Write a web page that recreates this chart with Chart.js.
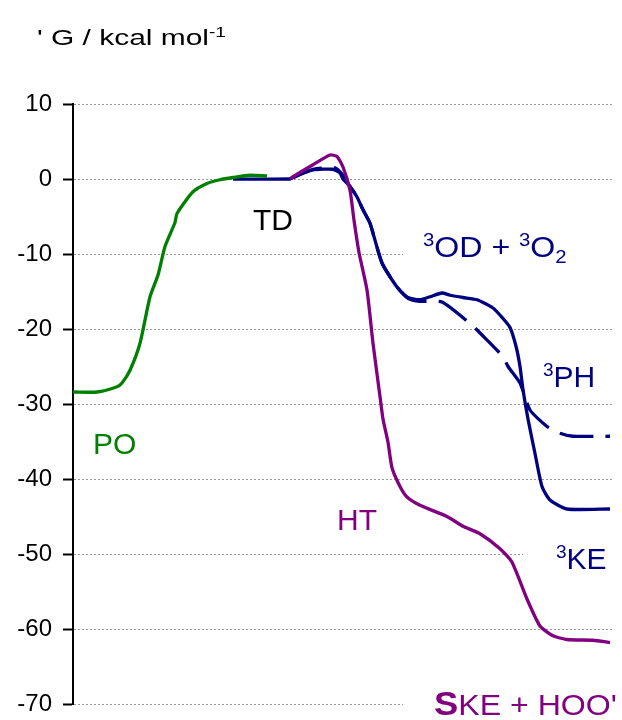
<!DOCTYPE html>
<html>
<head>
<meta charset="utf-8">
<script src="https://cdn.jsdelivr.net/npm/chart.js@4/dist/chart.umd.min.js"></script>
<style>
  body { margin: 0; background: #fff; }
  canvas { display: block; }
</style>
</head>
<body>
<canvas id="chart-energi" width="622" height="720"></canvas>
<script>
// reaction coordinate (arbitrary units) and free energy, kcal/mol
const poX = [0, 24, 44, 49, 57, 67, 77, 85, 92, 102, 104, 120, 134, 147, 160, 177, 194];
const poG = [-28.4, -28.4, -27.7, -27.2, -25.5, -21.9, -15.7, -12.8, -9.0, -5.8, -4.6, -1.7, -0.6, -0.1, 0.2, 0.5, 0.4];

const odX = [160, 217, 220, 240, 260, 267, 270, 277, 284, 290, 297, 309, 324, 335, 347, 357, 369, 377, 390, 404, 420, 430, 437, 443, 447, 450, 455, 462, 469, 477, 494, 537];
const odG = [0, 0, 0.2, 1.2, 1.3, 0.8, 0, -1.0, -2.4, -4.1, -5.9, -11.2, -14.4, -15.8, -16.1, -15.7, -15.2, -15.5, -15.8, -16.1, -17.2, -18.6, -19.8, -22.3, -25.0, -28.1, -32.0, -36.6, -41.0, -42.8, -44.0, -44.0];

const phX = [217, 220, 240, 262, 270, 277, 284, 290, 297, 309, 324, 335, 347, 369, 399, 409, 430, 435, 447, 457, 474, 487, 500, 537];
const phG = [0, 0.2, 1.3, 1.5, 0.5, -1.0, -2.4, -4.1, -5.9, -11.2, -14.4, -15.9, -16.3, -16.4, -19.5, -20.8, -23.7, -25.0, -27.2, -30.8, -33.0, -33.9, -34.3, -34.3];

const htX = [217, 220, 240, 257, 264, 270, 277, 281, 286, 294, 300, 307, 310, 315, 319, 327, 334, 347, 374, 390, 407, 427, 439, 454, 467, 480, 494, 520, 537];
const htG = [0, 0.3, 1.9, 3.2, 3.0, 1.6, -1.5, -5.5, -9.8, -14.8, -21.9, -29.0, -32.0, -35.1, -38.5, -41.0, -42.4, -43.5, -45.0, -46.3, -47.3, -49.3, -51.1, -56.0, -59.6, -60.9, -61.4, -61.5, -61.8];

const yMin = -70;
const yMax = 10;
const yStep = 10;

const pasangkan = (xs, ys) => xs.map((x, i) => ({ x: x, y: ys[i] }));

// tulisan dengan superscript / subscript, bisa direnggangkan mendatar
function tulisKaya(ctx, x, y, bagian, warna, ukuran, regang) {
    const sx = regang || 1;
    ctx.save();
    ctx.translate(x, y);
    ctx.scale(sx, 1);
    ctx.fillStyle = warna;
    ctx.textBaseline = "alphabetic";
    ctx.textAlign = "left";
    let posX = 0;
    bagian.forEach(([teks, jenis]) => {
        let dy = 0;
        let size = ukuran;
        let berat = "";
        if (jenis === "sup") { size = Math.round(ukuran * 0.64); dy = -ukuran * 0.38; }
        if (jenis === "sub") { size = Math.round(ukuran * 0.64); dy = ukuran * 0.2; }
        if (jenis === "big") { size = Math.round(ukuran * 1.12); berat = "bold "; }
        ctx.font = berat + size + "px 'Liberation Sans', Arial, sans-serif";
        ctx.fillText(teks, posX, dy);
        posX += ctx.measureText(teks).width;
    });
    ctx.restore();
}

const labelPlugin = {
    id: "labelEnergi",
    beforeDatasetsDraw(chart) {
        const ctx = chart.ctx;
        ctx.save();
        ctx.fillStyle = "#fff";
        // kotak label yang menutupi garis grid
        ctx.fillRect(403, 232, 219, 30);
        ctx.fillRect(523, 536, 99, 38);
        ctx.fillRect(403, 686, 219, 34);
        ctx.restore();
    },
    afterDatasetsDraw(chart) {
        const ctx = chart.ctx;
        tulisKaya(ctx, 37, 45, [["' G / kcal mol", "n"], ["-1", "sup"]], "#000", 22, 1.36);
        tulisKaya(ctx, 253, 230, [["TD", "n"]], "#000", 30);
        tulisKaya(ctx, 423, 257, [["3", "sup"], ["OD + ", "n"], ["3", "sup"], ["O", "n"], ["2", "sub"]], "#000080", 30, 1.07);
        tulisKaya(ctx, 543, 387, [["3", "sup"], ["PH", "n"]], "#000080", 30);
        tulisKaya(ctx, 93, 454, [["PO", "n"]], "#008000", 30);
        tulisKaya(ctx, 337, 530, [["HT", "n"]], "#800080", 30);
        tulisKaya(ctx, 556, 569, [["3", "sup"], ["KE", "n"]], "#000080", 30);
        tulisKaya(ctx, 434, 715, [["S", "big"], ["KE + HOO", "n"], ["'", "n"]], "#800080", 30, 1.07);
    },
};

const garis = (label, data, warna, dash) => ({
    label: label,
    data: data,
    borderColor: warna,
    backgroundColor: warna,
    borderWidth: 3.3,
    borderDash: dash || [],
    pointRadius: 0,
    tension: 0.2,
    fill: false,
});

const energi = document.getElementById("chart-energi");

const dataChartEnergi = {
    datasets: [
        garis("PO", pasangkan(poX, poG), "#008000"),
        garis("HT", pasangkan(htX, htG), "#800080"),
        garis("3PH", pasangkan(phX, phG), "#000080", [34, 12]),
        garis("3OD", pasangkan(odX, odG), "#000080"),
    ],
};

const configEnergi = {
    type: "line",
    data: dataChartEnergi,
    options: {
        responsive: false,
        animation: false,
        devicePixelRatio: 1,
        layout: {
            padding: { left: 0, right: 10, top: 104, bottom: 16 },
        },
        plugins: {
            legend: { display: false },
            tooltip: { enabled: false },
        },
        scales: {
            x: {
                type: "linear",
                min: 0,
                max: 539,
                display: false,
            },
            y: {
                min: yMin,
                max: yMax,
                ticks: {
                    stepSize: yStep,
                    color: "#000",
                    padding: 11,
                    font: { family: "'Liberation Sans', Arial, sans-serif", size: 24 },
                },
                grid: {
                    color: "#9a9a9a",
                    lineWidth: 1,
                    tickLength: 10,
                    tickColor: "#000",
                    tickWidth: 2,
                },
                border: {
                    display: true,
                    color: "#000",
                    width: 2,
                    dash: [2, 2],
                },
                afterFit(scale) {
                    scale.width = 73;
                    scale.paddingTop = 0;
                    scale.paddingBottom = 0;
                },
            },
        },
    },
    plugins: [labelPlugin],
};

new Chart(energi, configEnergi);
</script>
</body>
</html>
